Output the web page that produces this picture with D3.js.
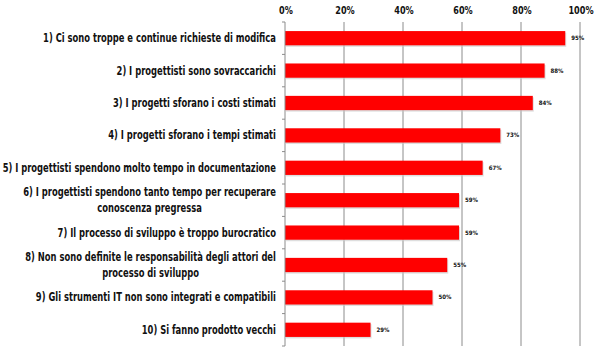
<!DOCTYPE html>
<html><head><meta charset="utf-8">
<script src="https://cdn.jsdelivr.net/npm/d3@7"></script>
<style>body{margin:0;background:#fff}svg{display:block}</style>
</head><body>
<svg id="c" width="600" height="360"></svg>
<script>
const categories = [
  ["1) Ci sono troppe e continue richieste di modifica"],
  ["2) I progettisti sono sovraccarichi"],
  ["3) I progetti sforano i costi stimati"],
  ["4) I progetti sforano i tempi stimati"],
  ["5) I progettisti spendono molto tempo in documentazione"],
  ["6) I progettisti spendono tanto tempo per recuperare", "conoscenza pregressa"],
  ["7) Il processo di sviluppo è troppo burocratico"],
  ["8) Non sono definite le responsabilità degli attori del", "processo di sviluppo"],
  ["9) Gli strumenti IT non sono integrati e compatibili"],
  ["10) Si fanno prodotto vecchi"]
];
const values = [95, 88, 84, 73, 67, 59, 59, 55, 50, 29];
const tickValues = [0, 20, 40, 60, 80, 100];
const tickLabels = ["0%", "20%", "40%", "60%", "80%", "100%"];

(function () {
const svg = d3.select("#c");
const mL = 285, mR = 580, mT = 22, mB = 346;
const font = "'DejaVu Sans Condensed', 'DejaVu Sans', sans-serif";
const x = d3.scaleLinear().domain([0, 100]).range([mL, mR]);
const y = d3.scaleBand().domain(d3.range(categories.length)).range([mT, mB]).paddingInner(0.56).paddingOuter(0.28);
const yb = d3.scaleLinear().domain([0, categories.length]).range([mT, mB]);

svg.append("g").selectAll("line").data(tickValues.slice(1)).join("line")
  .attr("x1", d => x(d)).attr("x2", d => x(d)).attr("y1", mT).attr("y2", mB)
  .attr("stroke", "#8c8c8c").attr("stroke-width", 1);

svg.append("g").selectAll("text").data(tickValues).join("text")
  .attr("transform", d => `translate(${x(d) + 1},14) scale(0.82,1)`)
  .attr("text-anchor", "middle")
  .attr("font-family", font).attr("font-weight", "bold").attr("font-size", 11)
  .attr("fill", "#111").text((d, i) => tickLabels[i]);

svg.append("g").selectAll("rect").data(values).join("rect")
  .attr("x", x(0) + 1).attr("y", (d, i) => y(i) + 1.5)
  .attr("width", d => x(d) - x(0)).attr("height", y.bandwidth())
  .attr("fill", "#c8c8c8").attr("opacity", 0.6);
svg.append("g").selectAll("rect").data(values).join("rect")
  .attr("x", x(0)).attr("y", (d, i) => y(i))
  .attr("width", d => x(d) - x(0)).attr("height", y.bandwidth())
  .attr("fill", "#ff0000");

svg.append("line").attr("x1", mL).attr("x2", mL).attr("y1", mT).attr("y2", mB)
  .attr("stroke", "#8c8c8c");
svg.append("g").selectAll("line").data(d3.range(categories.length + 1)).join("line")
  .attr("x1", mL - 3).attr("x2", mL).attr("y1", d => yb(d)).attr("y2", d => yb(d))
  .attr("stroke", "#8c8c8c");

svg.append("g").selectAll("text").data(values).join("text")
  .attr("x", d => x(d) + 6).attr("y", (d, i) => y(i) + y.bandwidth() / 2 + 2)
  .attr("font-family", font).attr("font-weight", "bold").attr("font-size", 6)
  .attr("fill", "#111").text(d => d + "%");

// category labels: measure the first label and scale all labels horizontally to match the reference width
const endX = 276, targetW = 233;
const lg = svg.append("g");
const texts = categories.map((lines, i) => {
  const cy = y(i) + y.bandwidth() / 2;
  const t = lg.append("text").attr("font-family", font).attr("font-weight", "bold")
    .attr("font-size", 11.5).attr("fill", "#111");
  const n = lines.length, lh = 15.5;
  lines.forEach((s, j) => {
    t.append("tspan").attr("y", cy + 4 + (j - (n - 1) / 2) * lh).text(s);
  });
  return t;
});
const w0 = texts[0].select("tspan").node().getComputedTextLength();
const k = targetW / w0;
texts.forEach(t => {
  const spans = t.selectAll("tspan").nodes();
  const maxW = d3.max(spans.map(s => s.getComputedTextLength()));
  t.attr("transform", `translate(${endX},0) scale(${k},1)`);
  spans.forEach(s => d3.select(s).attr("x", -maxW / 2).attr("text-anchor", "middle"));
});
})();
</script>
</body></html>
